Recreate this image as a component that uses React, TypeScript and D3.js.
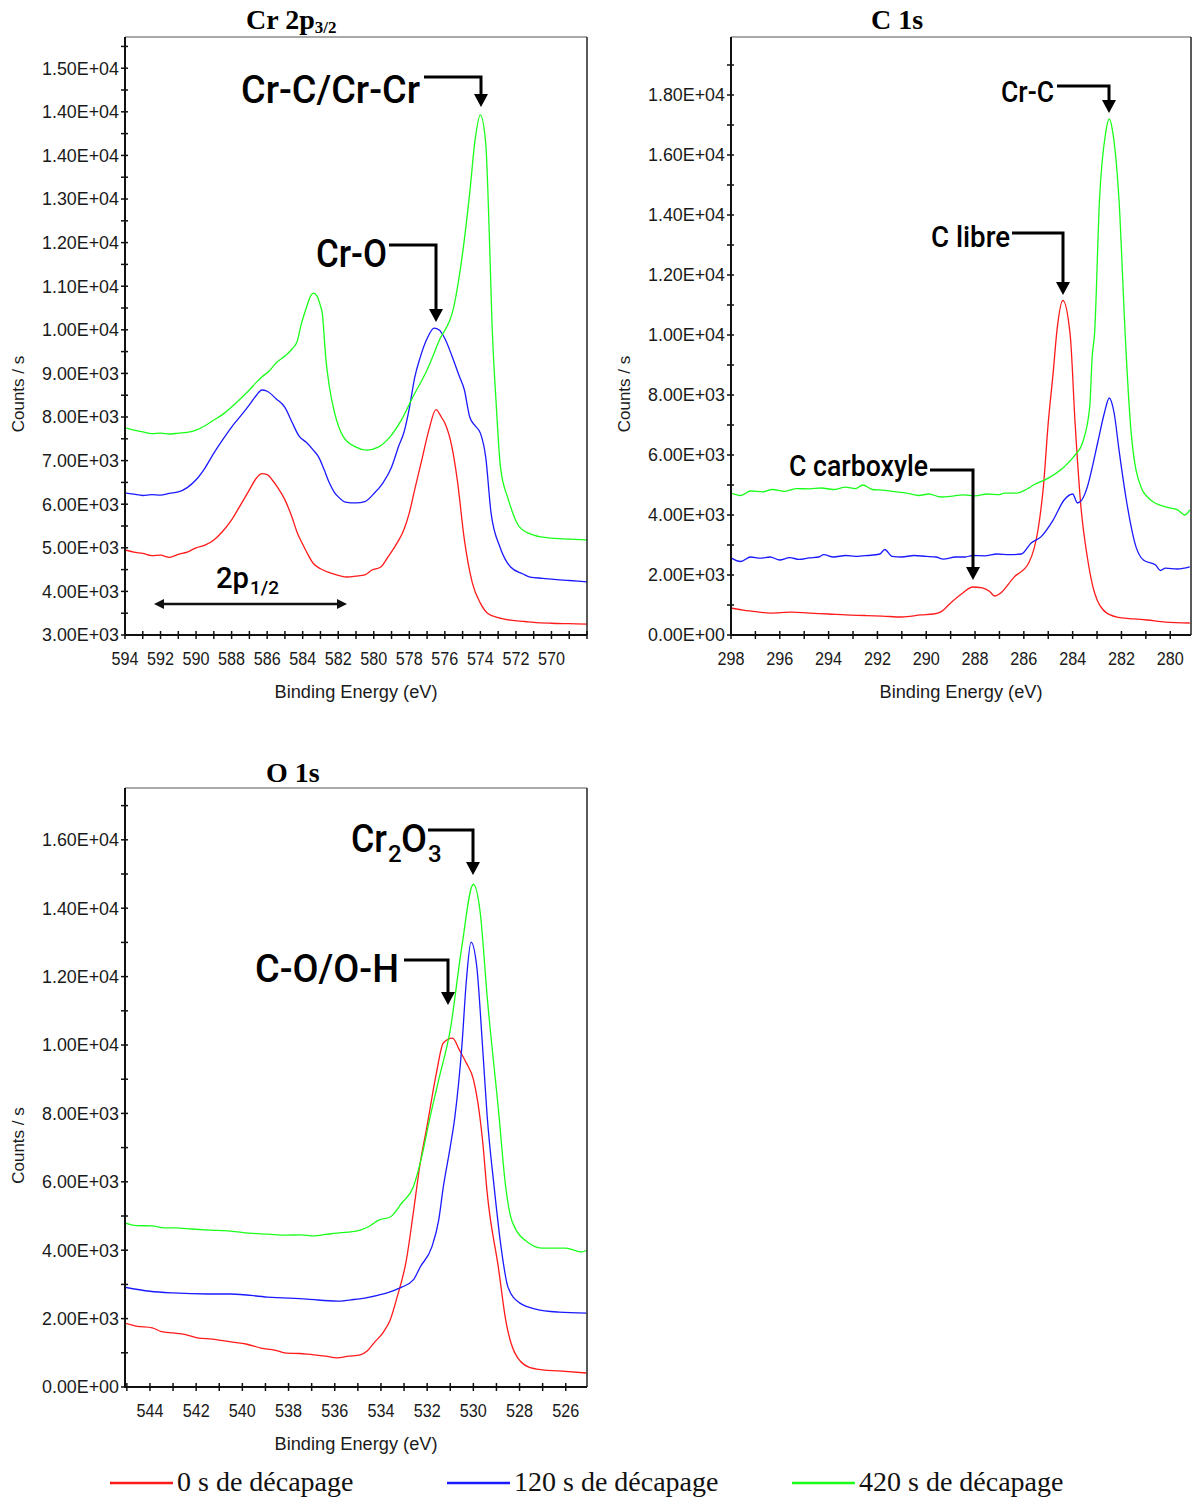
import React from "react";
import * as d3 from "d3";

// ---------- DATA ----------
// Cr 2p3/2 : [binding energy (eV), counts/s]
const crRed: [number, number][] = [[594,4950],[593.5,4900],[593,4870],[592.5,4820],[592,4830],[591.5,4780],[591,4850],[590.5,4900],[590,5000],[589.5,5060],[589,5180],[588.5,5380],[588,5640],[587.5,5980],[587,6330],[586.6,6600],[586.3,6700],[586,6680],[585.7,6550],[585.4,6380],[585,6100],[584.6,5700],[584.3,5340],[584,5080],[583.75,4880],[583.4,4640],[583,4520],[582.5,4430],[582,4370],[581.5,4330],[581,4350],[580.5,4380],[580.1,4490],[579.6,4560],[579.2,4790],[578.7,5100],[578.3,5420],[578,5800],[577.7,6330],[577.3,7010],[576.9,7700],[576.5,8170],[576.2,8000],[576,7860],[575.6,7310],[575.3,6560],[574.9,5180],[574.45,4190],[574,3730],[573.6,3500],[573,3400],[572.3,3340],[571.5,3310],[571,3290],[570,3270],[569,3260],[568,3250]];
const crBlue: [number, number][] = [[594,6260],[593.5,6230],[593,6200],[592.5,6220],[592,6210],[591.5,6250],[591,6280],[590.5,6380],[590,6560],[589.5,6830],[589,7170],[588.5,7480],[588,7770],[587.5,8020],[587,8280],[586.6,8500],[586.3,8620],[586,8590],[585.5,8420],[585,8220],[584.6,7880],[584.2,7560],[583.8,7420],[583.4,7240],[583.1,7080],[582.8,6800],[582.5,6490],[582.2,6260],[582,6170],[581.6,6050],[581,6030],[580.5,6060],[580,6240],[579.5,6480],[579,6850],[578.6,7330],[578.3,7650],[578,8200],[577.7,8900],[577.4,9350],[577,9800],[576.6,10040],[576.3,9990],[576,9800],[575.6,9400],[575.2,8950],[574.9,8620],[574.6,8000],[574.3,7800],[574,7630],[573.7,7080],[573.4,5800],[572.9,5020],[572.3,4560],[571.6,4400],[571.2,4330],[570.5,4300],[570,4280],[569,4250],[568,4220]];
const crGreen: [number, number][] = [[594,7750],[593.5,7700],[593,7660],[592.5,7620],[592,7630],[591.5,7610],[591,7630],[590.5,7650],[590,7700],[589.5,7800],[589,7930],[588.5,8060],[588,8230],[587.5,8420],[587,8620],[586.6,8800],[586.3,8920],[585.9,9050],[585.5,9240],[585,9400],[584.6,9560],[584.3,9750],[584.1,10100],[583.8,10500],[583.55,10780],[583.4,10840],[583.2,10780],[583,10550],[582.9,10390],[582.7,9350],[582.5,8700],[582.2,8090],[581.7,7540],[581,7310],[580.4,7240],[579.75,7310],[579.1,7540],[578.45,7930],[577.8,8460],[577,9080],[576.3,9770],[575.5,10520],[575,11760],[574.6,13140],[574.3,14350],[574,14930],[573.7,14280],[573.5,12220],[573.35,10200],[573.1,8230],[572.87,6850],[572.42,6100],[571.8,5480],[571,5290],[570,5220],[569,5200],[568,5180]];

// C 1s
const cRed: [number, number][] = [[298,900],[297.5,830],[296.9,770],[296.4,730],[295.5,760],[294.8,730],[294,700],[293.3,670],[292.5,650],[291.8,630],[291,600],[290.2,670],[289.7,700],[289.4,770],[289,1070],[288.5,1400],[288.1,1600],[287.7,1570],[287.4,1450],[287.2,1300],[287,1370],[286.4,1930],[285.8,2400],[285.4,3600],[285.2,4930],[285,7070],[284.8,8730],[284.64,10170],[284.4,11150],[284.1,10000],[283.9,7070],[283.66,4270],[283.4,2600],[283.1,1400],[282.6,730],[282,570],[281.5,540],[280.95,500],[280.2,430],[279.2,400]];
const cBlue: [number, number][] = [[298,2570],[297.6,2450],[297.2,2600],[296.8,2560],[296.4,2600],[296,2500],[295.6,2580],[295.2,2520],[294.8,2570],[294.4,2600],[294.2,2680],[293.8,2600],[293.3,2650],[292.9,2620],[292.4,2650],[291.9,2700],[291.7,2850],[291.4,2620],[291,2600],[290.5,2650],[290,2620],[289.6,2600],[289.3,2530],[288.8,2600],[288.4,2600],[288.1,2650],[287.6,2640],[287.1,2700],[286.6,2680],[286.1,2700],[285.7,3070],[285.3,3270],[284.8,3830],[284.35,4500],[284.0,4700],[283.8,4400],[283.4,4930],[283.25,5400],[282.95,6500],[282.7,7400],[282.5,7900],[282.3,7400],[282.1,6170],[281.8,4500],[281.4,2930],[281.1,2500],[280.6,2330],[280.4,2150],[280.2,2230],[279.7,2200],[279.2,2270]];
const cGreen: [number, number][] = [[298,4730],[297.6,4650],[297.2,4800],[296.7,4770],[296.3,4850],[295.8,4790],[295.3,4880],[294.8,4870],[294.3,4900],[293.8,4850],[293.3,4930],[292.9,4880],[292.6,5000],[292.2,4850],[291.8,4830],[291.3,4780],[290.8,4730],[290.3,4650],[289.9,4700],[289.4,4600],[289,4620],[288.5,4670],[288,4640],[287.5,4700],[287,4680],[286.8,4730],[286.3,4730],[285.9,4850],[285.6,5000],[285,5230],[284.35,5600],[283.9,6000],[283.6,6400],[283.3,7600],[283.2,9270],[283.1,10070],[282.9,14500],[282.65,16730],[282.5,17200],[282.35,16730],[282.1,14500],[281.85,10070],[281.8,9270],[281.6,6730],[281.2,4930],[280.8,4500],[280.2,4270],[279.7,4170],[279.4,4000],[279.2,4170]];

// O 1s
const oRed: [number, number][] = [[545.1,1870],[544.6,1780],[543.9,1730],[543.5,1620],[543,1580],[542.5,1540],[541.9,1430],[541.3,1400],[540.5,1320],[539.8,1250],[539.2,1140],[538.6,1080],[538.1,990],[537.5,980],[536.9,940],[536.4,900],[535.9,850],[535.4,900],[534.9,940],[534.6,1050],[534.3,1290],[533.9,1600],[533.6,1960],[533.3,2630],[532.9,3710],[532.6,5090],[532.3,6550],[532,7650],[531.6,9180],[531.3,10060],[530.9,10200],[530.6,9850],[530.3,9470],[530,9000],[529.8,8300],[529.6,7200],[529.4,5670],[528.9,3420],[528.6,1960],[528.2,990],[527.6,580],[527,500],[526.3,470],[525.1,410]];
const oBlue: [number, number][] = [[545.1,2920],[544,2800],[543,2750],[541.5,2720],[540.5,2720],[538.9,2630],[537.2,2570],[535.9,2510],[535.3,2550],[534.7,2600],[533.9,2720],[533.1,2920],[532.6,3130],[532.3,3510],[531.8,4090],[531.5,4880],[531.3,5850],[531,7020],[530.8,7900],[530.5,9940],[530.3,11900],[530.1,13010],[529.85,12280],[529.6,9940],[529.4,7900],[529.1,5850],[528.8,4090],[528.5,2920],[528,2460],[527.3,2280],[526.3,2190],[525.1,2160]];
const oGreen: [number, number][] = [[545.1,4800],[544.6,4720],[543.9,4710],[543.4,4650],[542.9,4650],[542.2,4620],[541.4,4590],[540.5,4560],[539.7,4500],[538.9,4470],[538.1,4440],[537.5,4450],[536.9,4420],[536.4,4460],[535.9,4500],[535.4,4530],[534.9,4590],[534.5,4700],[534.1,4880],[533.6,4970],[533.1,5380],[532.6,5850],[532.2,6840],[531.9,7810],[531.5,8980],[531,10440],[530.5,12870],[530,14700],[529.7,13860],[529.4,11400],[528.9,8010],[528.6,5850],[528.3,4800],[527.6,4210],[527,4060],[526,4060],[525.3,3950],[525.1,4000]];

// Tick labels
const crYTickValues = [3000,4000,5000,6000,7000,8000,9000,10000,11000,12000,13000,14000,15000,16000];
const crYTickLabels = ["3.00E+03","4.00E+03","5.00E+03","6.00E+03","7.00E+03","8.00E+03","9.00E+03","1.00E+04","1.10E+04","1.20E+04","1.30E+04","1.40E+04","1.40E+04","1.50E+04"];
const crXTickLabels = [594,592,590,588,586,584,582,580,578,576,574,572,570];
const cYTickValues = [0,2000,4000,6000,8000,10000,12000,14000,16000,18000];
const cYTickLabels = ["0.00E+00","2.00E+03","4.00E+03","6.00E+03","8.00E+03","1.00E+04","1.20E+04","1.40E+04","1.60E+04","1.80E+04"];
const cXTickLabels = [298,296,294,292,290,288,286,284,282,280];
const oYTickValues = [0,2000,4000,6000,8000,10000,12000,14000,16000];
const oYTickLabels = ["0.00E+00","2.00E+03","4.00E+03","6.00E+03","8.00E+03","1.00E+04","1.20E+04","1.40E+04","1.60E+04"];
const oXTickLabels = [544,542,540,538,536,534,532,530,528,526];

const seriesNames = ["0 s de décapage","120 s de décapage","420 s de décapage"];
const seriesColors = ["#ff1a1a","#1a1aff","#1aff1a"];

// ---------- DRAWING ----------
const TICK_FONT = "'Liberation Sans', Arial, sans-serif";
const ANN_FONT = "Roboto, 'Liberation Sans', sans-serif";
const SERIF = "'Liberation Serif', 'Times New Roman', serif";

type PanelProps = {
  left: number; top: number; right: number; bottom: number;
  xDomain: [number, number]; yDomain: [number, number];
  series: [number, number][][];
  yTickValues: number[]; yTickLabels: string[];
  yMinorStep: number;
  xTickLabels: number[];
  xMinor: [number, number];
};

function Panel(p: PanelProps) {
  const x = d3.scaleLinear().domain(p.xDomain).range([p.left, p.right]);
  const y = d3.scaleLinear().domain(p.yDomain).range([p.bottom, p.top]);
  const gen = d3.line<[number, number]>().x(d => x(d[0])).y(d => y(d[1])).curve(d3.curveMonotoneX);
  const yMinor = d3.range(p.yDomain[0], p.yDomain[1] + 1e-6, p.yMinorStep);
  const xMinor = d3.range(p.xMinor[0], p.xMinor[1] - 1e-6, -1);
  const midX = (p.left + p.right) / 2;
  const midY = (p.top + p.bottom) / 2;
  return (
    <g>
      <defs>
        <clipPath id={`clip-${p.left}-${p.top}`}>
          <rect x={p.left} y={p.top} width={p.right - p.left} height={p.bottom - p.top} />
        </clipPath>
      </defs>
      <g clipPath={`url(#clip-${p.left}-${p.top})`}>
        {p.series.map((s, i) => (
          <path key={i} d={gen(s) || ""} fill="none" stroke={seriesColors[i]} strokeWidth={1.3} />
        ))}
      </g>
      {/* frame */}
      <line x1={p.left} x2={p.right} y1={p.top} y2={p.top} stroke="#555" strokeWidth={1} />
      <line x1={p.right} x2={p.right} y1={p.top} y2={p.bottom} stroke="#222" strokeWidth={1.5} />
      <line x1={p.left} x2={p.left} y1={p.top} y2={p.bottom + 1} stroke="#111" strokeWidth={2} />
      <line x1={p.left - 1} x2={p.right} y1={p.bottom} y2={p.bottom} stroke="#111" strokeWidth={2} />
      {/* y ticks */}
      {yMinor.map((v, i) => (
        <line key={"ym" + i} x1={p.left - 4} x2={p.left + 3} y1={y(v)} y2={y(v)} stroke="#111" strokeWidth={1.5} />
      ))}
      {p.yTickValues.map((v, i) => (
        <text key={"yl" + i} x={p.left - 6} y={y(v)} dy="0.36em" textAnchor="end" fontFamily={TICK_FONT} fontSize={17.5} fill="#1a1a1a" textLength={77} lengthAdjust="spacingAndGlyphs">
          {p.yTickLabels[i]}
        </text>
      ))}
      {/* x ticks */}
      {xMinor.map((v, i) => (
        <line key={"xm" + i} x1={x(v)} x2={x(v)} y1={p.bottom - 4} y2={p.bottom + 4} stroke="#111" strokeWidth={1.5} />
      ))}
      {p.xTickLabels.map((v, i) => (
        <text key={"xl" + i} x={x(v)} y={p.bottom + 30} textAnchor="middle" fontFamily={TICK_FONT} fontSize={17.5} fill="#1a1a1a" textLength={27} lengthAdjust="spacingAndGlyphs">
          {v}
        </text>
      ))}
      <text x={midX} y={p.bottom + 63} textAnchor="middle" fontFamily={TICK_FONT} fontSize={17.5} fill="#1a1a1a" textLength={163} lengthAdjust="spacingAndGlyphs">
        Binding Energy (eV)
      </text>
      <text transform={`translate(${p.left - 101},${midY + 58}) rotate(-90)`} textAnchor="middle" fontFamily={TICK_FONT} fontSize={17} fill="#1a1a1a">
        Counts / s
      </text>
    </g>
  );
}

function Callout({ text, x, y, size, len, lineY, x0, x1, tip }: { text: React.ReactNode; x: number; y: number; size: number; len?: number; lineY: number; x0: number; x1: number; tip: number }) {
  return (
    <g>
      <text x={x} y={y} fontFamily={ANN_FONT} fontWeight={500} fontSize={size} fill="#000" textLength={len} lengthAdjust={len ? "spacingAndGlyphs" : undefined}>
        {text}
      </text>
      <path d={`M${x0},${lineY} H${x1} V${tip - 12}`} fill="none" stroke="#000" strokeWidth={3} />
      <path d={`M${x1 - 7},${tip - 13} L${x1 + 7},${tip - 13} L${x1},${tip} Z`} fill="#000" />
    </g>
  );
}

export default function App() {
  return (
    <svg width={1192} height={1499} viewBox="0 0 1192 1499" style={{ position: "absolute", left: 0, top: 0, background: "#fff" }}>
      <rect width={1192} height={1499} fill="#fff" />
      {/* Titles */}
      <text x={246} y={29} fontFamily={SERIF} fontWeight="bold" fontSize={28}>
        Cr 2p<tspan fontSize={17} dy={4}>3/2</tspan>
      </text>
      <text x={871} y={29} fontFamily={SERIF} fontWeight="bold" fontSize={28}>C 1s</text>
      <text x={266} y={782} fontFamily={SERIF} fontWeight="bold" fontSize={28}>O 1s</text>

      <Panel left={125} top={37} right={587} bottom={635}
        xDomain={[594, 568]} yDomain={[3000, 16716]}
        series={[crRed, crBlue, crGreen]}
        yTickValues={crYTickValues} yTickLabels={crYTickLabels} yMinorStep={500}
        xTickLabels={crXTickLabels} xMinor={[594, 568]} />
      <Panel left={731} top={37} right={1191} bottom={635}
        xDomain={[298, 279.15]} yDomain={[0, 19933]}
        series={[cRed, cBlue, cGreen]}
        yTickValues={cYTickValues} yTickLabels={cYTickLabels} yMinorStep={1000}
        xTickLabels={cXTickLabels} xMinor={[298, 279.15]} />
      <Panel left={125} top={788} right={587} bottom={1387}
        xDomain={[545.08, 525.08]} yDomain={[0, 17515]}
        series={[oRed, oBlue, oGreen]}
        yTickValues={oYTickValues} yTickLabels={oYTickLabels} yMinorStep={1000}
        xTickLabels={oXTickLabels} xMinor={[545, 525.08]} />

      {/* Annotations Cr 2p */}
      <Callout text="Cr-C/Cr-Cr" x={241} y={103} size={38} len={179} lineY={77} x0={424} x1={481} tip={107} />
      <Callout text="Cr-O" x={316} y={267} size={38} len={71} lineY={245} x0={389} x1={436} tip={322} />
      <text x={216} y={588} fontFamily={ANN_FONT} fontWeight={500} fontSize={29} textLength={33} lengthAdjust="spacingAndGlyphs">2p</text>
      <text x={250} y={594} fontFamily={ANN_FONT} fontWeight={500} fontSize={18} textLength={29} lengthAdjust="spacingAndGlyphs">1/2</text>
      <line x1={162} x2={339} y1={604} y2={604} stroke="#111" strokeWidth={2.5} />
      <path d="M154,604 L164,599 L164,609 Z" fill="#111" />
      <path d="M347,604 L337,599 L337,609 Z" fill="#111" />

      {/* Annotations C 1s */}
      <Callout text="Cr-C" x={1001} y={102} size={29} len={53} lineY={86} x0={1057} x1={1109} tip={113} />
      <Callout text="C libre" x={931} y={247} size={29} len={79} lineY={233} x0={1012} x1={1063} tip={295} />
      <Callout text="C carboxyle" x={789} y={476} size={29} len={139} lineY={470} x0={930} x1={973} tip={580} />

      {/* Annotations O 1s */}
      <g>
        <text x={351} y={852} fontFamily={ANN_FONT} fontWeight={500} fontSize={39}>
          <tspan textLength={36} lengthAdjust="spacingAndGlyphs">Cr</tspan>
          <tspan x={388} y={862} fontSize={24}>2</tspan>
          <tspan x={401} y={852} textLength={26} lengthAdjust="spacingAndGlyphs">O</tspan>
          <tspan x={428} y={862} fontSize={24}>3</tspan>
        </text>
        <path d="M428,830 H473 V862" fill="none" stroke="#000" strokeWidth={3} />
        <path d="M466,862 L480,862 L473,875 Z" fill="#000" />
      </g>
      <Callout text="C-O/O-H" x={255} y={982} size={39} len={144} lineY={960} x0={404} x1={448} tip={1005} />

      {/* Legend */}
      {[110, 447, 792].map((lx, i) => (
        <g key={i}>
          <line x1={lx} x2={lx + 63} y1={1483} y2={1483} stroke={seriesColors[i]} strokeWidth={2.5} />
          <text x={lx + 67} y={1491} fontFamily={SERIF} fontSize={28} fill="#111">{seriesNames[i]}</text>
        </g>
      ))}
    </svg>
  );
}
